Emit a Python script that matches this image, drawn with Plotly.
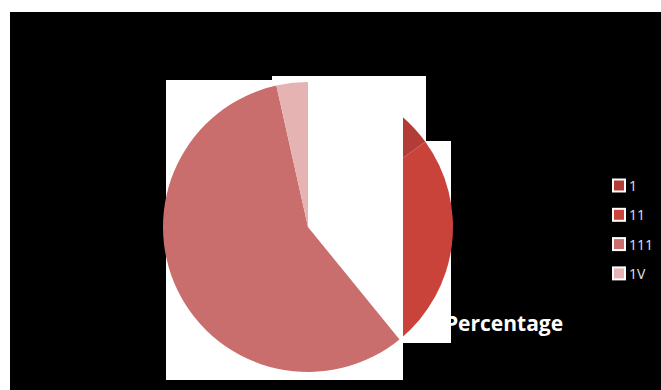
import math
import plotly.graph_objects as go

# ---- data ----
categories = ["1", "11", "111", "1V"]
values = [15.0, 24.0, 57.5, 3.5]
colors = ["#b43c37", "#c9433b", "#c96e6c", "#e6b3b3"]
title_text = "Percentage"

W, H = 661, 390


def px(x):
    return x / W


def py(y):
    return 1 - y / H


# pie geometry (page pixels)
cx, cy, r = 308, 227, 145

fig = go.Figure()
fig.add_trace(go.Pie(
    labels=categories,
    values=values,
    marker=dict(colors=colors, line=dict(width=0)),
    sort=False,
    direction="clockwise",
    rotation=0,
    textinfo="none",
    hoverinfo="label+percent",
    showlegend=False,
    domain=dict(x=[px(cx - r), px(cx + r)], y=[py(cy + r), py(cy - r)]),
))

shapes = []
# black chart area
shapes.append(dict(type="rect", xref="paper", yref="paper", layer="below",
                   x0=px(10), x1=1, y0=0, y1=py(12),
                   fillcolor="black", line=dict(width=0)))
# white rendering artifacts behind the pie
for (x0, y0, x1, y1) in [(166, 80, 403, 380), (272, 76, 426, 141), (403, 141, 451, 343)]:
    shapes.append(dict(type="rect", xref="paper", yref="paper", layer="below",
                       x0=px(x0), x1=px(x1), y0=py(y1), y1=py(y0),
                       fillcolor="white", line=dict(width=0)))

# white overlay hiding slices 1 and 11 left of x=403
total = sum(values)
theta = (values[0] + values[1]) / total * 2 * math.pi
xe = 403
t = (xe - cx) / math.sin(theta)
ye = cy - math.cos(theta) * t + 2
path = "M {} {} L {} {} L {} {} L {} {} L {} {} Z".format(
    px(cx), py(76), px(xe), py(76), px(xe), py(ye), px(cx), py(cy), px(cx), py(76))
shapes.append(dict(type="path", xref="paper", yref="paper", layer="above",
                   path=path, fillcolor="white", line=dict(width=0)))

# legend (manual)
annotations = []
leg_x, leg_y0, leg_dy = 619, 185.5, 29.3
for i, (cat, col) in enumerate(zip(categories, colors)):
    yc = leg_y0 + i * leg_dy
    shapes.append(dict(type="rect", xref="paper", yref="paper", layer="above",
                       x0=px(leg_x - 7), x1=px(leg_x + 7), y0=py(yc + 7), y1=py(yc - 7),
                       fillcolor="white", line=dict(width=0)))
    shapes.append(dict(type="rect", xref="paper", yref="paper", layer="above",
                       x0=px(leg_x - 5), x1=px(leg_x + 5), y0=py(yc + 5), y1=py(yc - 5),
                       fillcolor=col, line=dict(width=0)))
    annotations.append(dict(xref="paper", yref="paper", x=px(627), y=py(yc),
                            xanchor="left", yanchor="middle", showarrow=False,
                            text=cat, font=dict(family="Open Sans", size=14, color="#e0e0e0")))

fig.update_layout(
    width=W, height=H,
    margin=dict(l=0, r=0, t=0, b=0),
    paper_bgcolor="white",
    plot_bgcolor="white",
    shapes=shapes,
    annotations=annotations,
    title=dict(text="<b>" + title_text + "</b>", x=px(504), y=py(324),
               xanchor="center", yanchor="middle",
               font=dict(family="Open Sans", size=21, color="white")),
)

fig.write_html(
    "out.html",
    config={"displayModeBar": False},
    post_script="document.body.style.margin='0';document.body.style.overflow='hidden';",
)
